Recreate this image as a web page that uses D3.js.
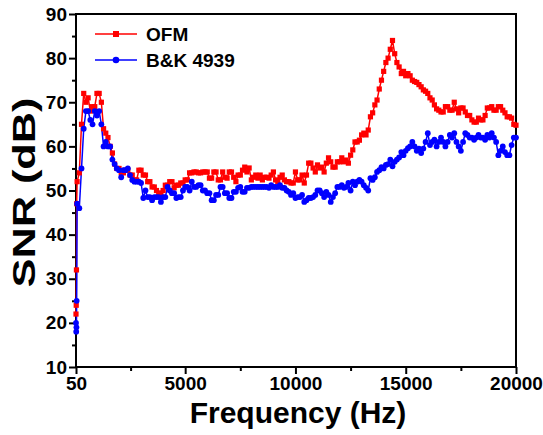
<!DOCTYPE html>
<html>
<head>
<meta charset="utf-8">
<script src="https://cdn.jsdelivr.net/npm/d3@7"></script>
<style>
  body { margin: 0; background: #fff; }
  text { font-family: "Liberation Sans", Arial, sans-serif; font-weight: bold; }
</style>
</head>
<body>
<div id="chart"></div>
<script>
// Frequency grid (Hz): a few low points, then 100 Hz steps
const lowFreq = [50, 60, 70, 80];
const freqs = lowFreq.concat(d3.range(100, 20001, 100));

// SNR (dB)
const ofmSNR = [22, 24, 32, 47,
  52, 54, 65, 72, 70, 71, 68, 69, 69, 72,
  72, 70, 64, 63, 62, 60, 58.5, 56, 55, 55,
  54, 54, 54.6, 54.6, 53.5, 53.5, 52.4, 52.4, 54.6, 54.6,
  53.5, 53.5, 52, 52, 50.8, 50.8, 50, 49.4, 49.4, 50,
  51.2, 51.2, 52, 52, 50.6, 51.2, 51.2, 51.7, 51.7, 52.4,
  52.4, 54, 54, 54.2, 54.2, 54, 54, 54.2, 54.2, 54.2,
  52.8, 52.8, 54.2, 54.2, 52.4, 52.4, 54.2, 53, 52.8, 54.2,
  54.2, 53, 52, 53.5, 53.5, 54.6, 55.3, 54.2, 55.1, 52.4,
  53, 53.5, 52.8, 53.5, 52.4, 53, 53, 52.8, 53.5, 54.2,
  52.4, 52, 53, 53.5, 52.4, 52, 52, 51.7, 51.7, 54.2,
  52.4, 52.4, 53.5, 51.7, 53.5, 56.2, 56.2, 55.1, 54.2, 55.8,
  55.1, 55.3, 54.2, 56.2, 57.4, 56.5, 55.3, 55.3, 56.5, 56.5,
  57.4, 56.5, 56.9, 56.2, 58, 59.2, 61, 61, 61.4, 62.6,
  63, 62.6, 63.7, 66.7, 67.6, 69.4, 70.5, 73, 75, 77,
  79, 80, 82, 84, 81, 79, 78, 76.5, 77, 76,
  76.5, 76, 75, 74.7, 74.5, 74, 73.5, 72.8, 72.5, 72,
  71, 70.5, 69.4, 68.5, 68.2, 67.8, 67.8, 69, 69, 68.2,
  68.2, 70, 68.5, 67.6, 68.7, 68.7, 67.8, 67, 67, 66,
  65.5, 65.5, 66.4, 66, 66, 67, 68.7, 68.7, 69, 68.2,
  68.2, 69, 69, 68.2, 67.6, 66.7, 66.7, 66.4, 65, 64.8];

const bkSNR = [20, 18, 19, 25,
  47, 46, 55, 64, 68, 68, 66, 65, 68, 67,
  68, 65, 60, 61, 60, 60, 57, 56, 55, 54.6,
  53, 54.6, 54.6, 55, 53.5, 52.4, 52, 52, 52, 51.7,
  48.3, 50, 48.5, 48.5, 47.8, 48.5, 48.5, 48.5, 47.4, 48.5,
  48.5, 50.8, 50, 49.4, 49.4, 48.3, 48.5, 48.5, 50, 50.8,
  50.8, 50, 52, 50.8, 50.8, 51.2, 51.2, 50, 50, 49.4,
  49.4, 47.8, 47.8, 49, 49, 50.8, 50.8, 49.4, 49.4, 48.3,
  48.3, 49.7, 49.7, 50.6, 50.8, 49.7, 49.7, 50.6, 50.6, 50.8,
  50.8, 50.8, 50.8, 50.8, 50.8, 50.8, 50.8, 50.6, 51.2, 50.8,
  50.8, 50.8, 51.2, 50.6, 50.6, 50, 49.7, 49, 49.4, 48.3,
  48.5, 48.5, 49, 47.4, 47.8, 48.3, 48.3, 48.5, 49, 50,
  50, 49.4, 48.5, 49.7, 49, 47.4, 48.5, 49.4, 50.8, 50.8,
  51.2, 50.6, 50.8, 51.7, 50, 52, 51.2, 52, 52.4, 52,
  51.2, 50.6, 50, 52.8, 52.4, 53, 54.2, 54.6, 55.3, 55,
  55.8, 56, 57, 55.5, 56.5, 57, 57.5, 58.7, 58, 59,
  59.6, 60, 61, 60, 59, 59.5, 58.5, 59.5, 61, 63,
  60.3, 61, 61.5, 60, 61, 62, 61, 60, 61, 62.6,
  62, 63, 61, 60, 59, 61, 63, 62.6, 62, 62,
  61.5, 62, 62.6, 62, 62, 61.5, 62.6, 62, 63, 62,
  61, 58, 59, 60, 58.7, 58, 58, 60.3, 62, 62];

const xTicks = [50, 5000, 10000, 15000, 20000];
const xMinor = [2525, 7500, 12500, 17500];
const yTicks = [10, 20, 30, 40, 50, 60, 70, 80, 90];
const yMinor = [15, 25, 35, 45, 55, 65, 75, 85];
const seriesNames = ["OFM", "B&K 4939"];
const seriesColors = ["#ff0000", "#0000ff"];

const W = 543, H = 435;
const margin = {top: 14, right: 27, bottom: 68, left: 76};
const width = W - margin.left - margin.right,
      height = H - margin.top - margin.bottom;

const svg = d3.select("#chart").append("svg")
    .attr("width", W).attr("height", H);
const g = svg.append("g")
    .attr("transform", `translate(${margin.left},${margin.top})`);

const x = d3.scaleLinear().domain([50, 20000]).range([0, width]);
const y = d3.scaleLinear().domain([10, 90]).range([height, 0]);

// axes
g.append("g").attr("transform", `translate(0,${height})`)
  .call(d3.axisBottom(x).tickValues(xTicks).tickSize(7).tickPadding(3).tickFormat(d3.format("d")));
g.append("g").attr("transform", `translate(0,${height})`)
  .call(d3.axisBottom(x).tickValues(xMinor).tickSize(4).tickFormat(""));
g.append("g")
  .call(d3.axisLeft(y).tickValues(yTicks).tickSize(7).tickPadding(2));
g.append("g")
  .call(d3.axisLeft(y).tickValues(yMinor).tickSize(4).tickFormat(""));

g.selectAll(".domain").remove();
g.selectAll(".tick line").attr("stroke", "#000").attr("stroke-width", 2);
g.selectAll(".tick text").style("font-size", "19px").attr("fill", "#000");

// frame
g.append("rect")
  .attr("x", 0).attr("y", 0).attr("width", width).attr("height", height)
  .attr("fill", "none").attr("stroke", "#000").attr("stroke-width", 2);

// series
const data = [ofmSNR, bkSNR].map(vals => vals.map((v, i) => ({f: freqs[i], v: v})));
const line = d3.line().x(d => x(d.f)).y(d => y(d.v));

data.forEach((pts, k) => {
  g.append("path").datum(pts)
    .attr("fill", "none").attr("stroke", seriesColors[k]).attr("stroke-width", 1.5)
    .attr("d", line);
});

g.append("g").selectAll("rect").data(data[0]).join("rect")
  .attr("x", d => x(d.f) - 2.6).attr("y", d => y(d.v) - 2.6)
  .attr("width", 5.2).attr("height", 5.2).attr("fill", seriesColors[0]);
g.append("g").selectAll("circle").data(data[1]).join("circle")
  .attr("cx", d => x(d.f)).attr("cy", d => y(d.v)).attr("r", 2.9)
  .attr("fill", seriesColors[1]);

// legend
const legend = svg.append("g");
seriesNames.forEach((name, k) => {
  const ly = 34 + k * 26;
  legend.append("line").attr("x1", 95).attr("x2", 137).attr("y1", ly).attr("y2", ly)
    .attr("stroke", seriesColors[k]).attr("stroke-width", 1.5);
  if (k === 0) {
    legend.append("rect").attr("x", 116 - 3).attr("y", ly - 3).attr("width", 6).attr("height", 6)
      .attr("fill", seriesColors[k]);
  } else {
    legend.append("circle").attr("cx", 116).attr("cy", ly).attr("r", 3.3).attr("fill", seriesColors[k]);
  }
  legend.append("text").attr("x", 146).attr("y", ly + 7)
    .style("font-size", "19px").text(name);
});

// axis titles
svg.append("text")
  .attr("x", margin.left + width / 2 + 2).attr("y", 423)
  .attr("text-anchor", "middle").style("font-size", "30px")
  .text("Frequency (Hz)");
svg.append("text")
  .attr("transform", `translate(35,${margin.top + height / 2 + 2}) rotate(-90)`)
  .attr("text-anchor", "middle").style("font-size", "31px")
  .attr("textLength", 190).attr("lengthAdjust", "spacingAndGlyphs")
  .text("SNR (dB)");
</script>
</body>
</html>
